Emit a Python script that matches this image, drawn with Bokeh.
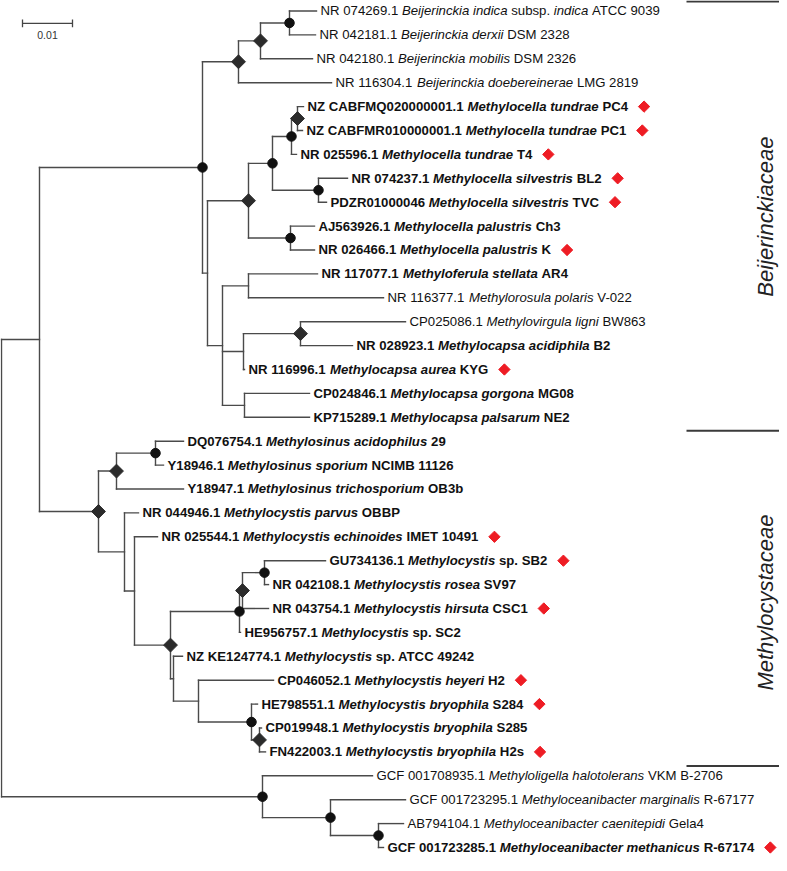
import numpy as np
from bokeh.plotting import figure
from bokeh.models import Range1d, ColumnDataSource
from bokeh.embed import file_html
from bokeh.resources import INLINE
from bokeh.core.properties import value

# ------------------------------------------------------------------
# DATA  (branch lengths in substitutions per site; leaves named by index,
#        internal-node tag: c = circle support, d = diamond support)
# ------------------------------------------------------------------
BEIJERINCKIA = "(((0:0.0054,1:0.0052)c:0.0058,2:0.0104)d:0.0044,3:0.0186)d"
METHYLOCELLA = ("((((4:0.0012,5:0.0010)d:0.0012,6:0.0010)c:0.0038,"
                "(7:0.0058,8:0.0016)c:0.0092)c:0.0048,(9:0.0048,10:0.0048)c:0.0084)d")
METHYLOCAPSA = ("((11:0.0138,12:0.0270):0.0052,((13:0.0210,14:0.0104)d:0.0114,15:0.0002):0.0042,"
                "(16:0.0130,17:0.0130):0.0044)")
METHYLOSINUS = "((18:0.0056,19:0.0016)c:0.0078,20:0.0134)d"
METHYLOCYSTIS = ("(21:0.0028,(22:0.0046,((((23:0.0122,24:0.0008)c:0.0044,25:0.0052)d:0.0006,"
                 "26:0.0002)c:0.0138,(27:0.0018,(28:0.0150,(29:0.0012,(30:0.0004,31:0.0012)d:0.0016)c:0.0106)"
                 ":0.0050):0.0006)d:0.0072):0.0020)")
OUTGROUP = "(32:0.0220,(33:0.0150,(34:0.0050,35:0.0010)c:0.0096)c:0.0136)c"

BEIJ_FAMILY = f"({BEIJERINCKIA}:0.0072,({METHYLOCELLA}:0.0082,{METHYLOCAPSA}:0.0030):0.0010)c"
CYST_FAMILY = f"({METHYLOSINUS}:0.0036,{METHYLOCYSTIS}:0.0052)d"
TREE = f"(({BEIJ_FAMILY}:0.0326,{CYST_FAMILY}:0.0118):0.0076,{OUTGROUP}:0.0522);"

# leaf labels: text between * is italic
leaf_labels = [
    "NR 074269.1 *Beijerinckia indica* subsp. *indica* ATCC 9039",
    "NR 042181.1 *Beijerinckia derxii* DSM 2328",
    "NR 042180.1 *Beijerinckia mobilis* DSM 2326",
    "NR 116304.1 *Beijerinckia doebereinerae* LMG 2819",
    "NZ CABFMQ020000001.1 *Methylocella tundrae* PC4",
    "NZ CABFMR010000001.1 *Methylocella tundrae* PC1",
    "NR 025596.1 *Methylocella tundrae* T4",
    "NR 074237.1 *Methylocella silvestris* BL2",
    "PDZR01000046 *Methylocella silvestris* TVC",
    "AJ563926.1 *Methylocella palustris* Ch3",
    "NR 026466.1 *Methylocella palustris* K",
    "NR 117077.1 *Methyloferula stellata* AR4",
    "NR 116377.1 *Methylorosula polaris* V-022",
    "CP025086.1 *Methylovirgula ligni* BW863",
    "NR 028923.1 *Methylocapsa acidiphila* B2",
    "NR 116996.1 *Methylocapsa aurea* KYG",
    "CP024846.1 *Methylocapsa gorgona* MG08",
    "KP715289.1 *Methylocapsa palsarum* NE2",
    "DQ076754.1 *Methylosinus acidophilus* 29",
    "Y18946.1 *Methylosinus sporium* NCIMB 11126",
    "Y18947.1 *Methylosinus trichosporium* OB3b",
    "NR 044946.1 *Methylocystis parvus* OBBP",
    "NR 025544.1 *Methylocystis echinoides* IMET 10491",
    "GU734136.1 *Methylocystis* sp. SB2",
    "NR 042108.1 *Methylocystis rosea* SV97",
    "NR 043754.1 *Methylocystis hirsuta* CSC1",
    "HE956757.1 *Methylocystis* sp. SC2",
    "NZ KE124774.1 *Methylocystis* sp. ATCC 49242",
    "CP046052.1 *Methylocystis heyeri* H2",
    "HE798551.1 *Methylocystis bryophila* S284",
    "CP019948.1 *Methylocystis bryophila* S285",
    "FN422003.1 *Methylocystis bryophila* H2s",
    "GCF 001708935.1 *Methyloligella halotolerans* VKM B-2706",
    "GCF 001723295.1 *Methyloceanibacter marginalis* R-67177",
    "AB794104.1 *Methyloceanibacter caenitepidi* Gela4",
    "GCF 001723285.1 *Methyloceanibacter methanicus* R-67174",
]
leaf_bold = [0, 0, 0, 0, 1, 1, 1, 1, 1, 1, 1, 1, 0, 0, 1, 1, 1, 1,
             1, 1, 1, 1, 1, 1, 1, 1, 1, 1, 1, 1, 1, 1, 0, 0, 0, 1]
leaf_marked = [0, 0, 0, 0, 1, 1, 1, 1, 1, 0, 1, 0, 0, 0, 0, 1, 0, 0,
               0, 0, 0, 0, 1, 1, 0, 1, 0, 0, 1, 1, 0, 1, 0, 0, 0, 1]

family_names = ["Beijerinckiaceae", "Methylocystaceae"]
family_bounds = [-0.40, 17.56, 31.59]   # in leaf-row units
family_centers = [8.6, 24.75]
scale_length = 0.01
scale_label = "0.01"

# ------------------------------------------------------------------
# Newick parsing / layout
# ------------------------------------------------------------------
def parse_newick(s):
    s = s.strip().rstrip(";")
    pos = 0

    def node():
        nonlocal pos
        children = []
        if s[pos] == "(":
            pos += 1
            while True:
                children.append(node())
                if s[pos] == ",":
                    pos += 1
                    continue
                if s[pos] == ")":
                    pos += 1
                    break
        start = pos
        while pos < len(s) and s[pos] not in ":,)":
            pos += 1
        name = s[start:pos]
        length = 0.0
        if pos < len(s) and s[pos] == ":":
            pos += 1
            start = pos
            while pos < len(s) and s[pos] not in ",)":
                pos += 1
            length = float(s[start:pos])
        return {"name": name, "len": length, "children": children}

    return node()


root = parse_newick(TREE)


def layout(nd, x0):
    nd["x"] = x0 + nd["len"]
    if nd["children"]:
        for ch in nd["children"]:
            layout(ch, nd["x"])
        nd["y"] = (nd["children"][0]["y"] + nd["children"][-1]["y"]) / 2.0
    else:
        nd["y"] = float(int(nd["name"]))


layout(root, 0.0)

sx0, sy0, sx1, sy1 = [], [], [], []
circ_x, circ_y, dia_x, dia_y = [], [], [], []
leaf_x = {}


def collect(nd):
    if nd["children"]:
        sx0.append(nd["x"]); sy0.append(nd["children"][0]["y"])
        sx1.append(nd["x"]); sy1.append(nd["children"][-1]["y"])
        for ch in nd["children"]:
            sx0.append(nd["x"]); sy0.append(ch["y"])
            sx1.append(ch["x"]); sy1.append(ch["y"])
            collect(ch)
        if nd["name"] == "c":
            circ_x.append(nd["x"]); circ_y.append(nd["y"])
        elif nd["name"] == "d":
            dia_x.append(nd["x"]); dia_y.append(nd["y"])
    else:
        leaf_x[int(nd["name"])] = nd["x"]


collect(root)

# ------------------------------------------------------------------
# text metrics (Arial / Liberation Sans advance widths, per 1000 em)
# ------------------------------------------------------------------
REG = dict(zip("ABCDEFGHIJKLMNOPQRSTUVWXYZ",
               [667, 667, 722, 722, 667, 611, 778, 722, 278, 500, 667, 556, 833,
                722, 778, 667, 778, 722, 667, 611, 722, 667, 944, 667, 667, 611]))
REG.update(zip("abcdefghijklmnopqrstuvwxyz",
               [556, 556, 500, 556, 556, 278, 556, 556, 222, 222, 500, 222, 833,
                556, 556, 556, 556, 333, 500, 278, 556, 500, 722, 500, 500, 500]))
BLD = dict(zip("ABCDEFGHIJKLMNOPQRSTUVWXYZ",
               [722, 722, 722, 722, 667, 611, 778, 722, 278, 556, 722, 611, 833,
                722, 778, 667, 778, 722, 667, 611, 722, 667, 944, 667, 667, 611]))
BLD.update(zip("abcdefghijklmnopqrstuvwxyz",
               [556, 611, 556, 611, 556, 333, 611, 611, 278, 278, 556, 278, 889,
                611, 611, 611, 611, 389, 556, 333, 611, 556, 778, 556, 556, 500]))
for tbl in (REG, BLD):
    tbl.update({d: 556 for d in "0123456789"})
    tbl.update({" ": 278, ".": 278, "-": 333})

FS = 13.2          # label font size, px
PX = 0.0002        # data units per pixel on the x axis


def text_w(s, bold):
    t = BLD if bold else REG
    return sum(t.get(ch, 556) for ch in s) / 1000.0 * FS


seg_x, seg_y, seg_t, seg_off, seg_style = [], [], [], [], []
mark_x, mark_y = [], []
for i, lab in enumerate(leaf_labels):
    bold = bool(leaf_bold[i])
    off = 4.0
    for k, part in enumerate(lab.split("*")):
        if part == "":
            continue
        lead = len(part) - len(part.lstrip(" "))
        txt = part.strip(" ")
        if txt:
            italic = (k % 2 == 1)
            style = ("bold " if bold else "") + ("italic" if italic else "")
            style = style.strip() or "normal"
            seg_x.append(leaf_x[i]); seg_y.append(i); seg_t.append(txt)
            seg_off.append(off + text_w(" " * lead, bold)); seg_style.append(style)
        off += text_w(part, bold)
    if leaf_marked[i]:
        mark_x.append(leaf_x[i] + (off + 16.0) * PX)
        mark_y.append(i)

# ------------------------------------------------------------------
# figure
# ------------------------------------------------------------------
W, H = 779, 855
p = figure(width=W, height=H, output_backend="svg", toolbar_location=None,
           x_range=Range1d(-PX, -PX + W * PX), y_range=Range1d(35.335, -0.4393),
           x_axis_location=None, y_axis_location=None, min_border=0,
           tools="")
p.grid.visible = False
p.outline_line_color = None
p.background_fill_color = "white"
p.border_fill_color = "white"

p.segment(x0=sx0, y0=sy0, x1=sx1, y1=sy1, line_color="#4a4a4a", line_width=1.4,
          line_cap="square")

p.scatter(x=circ_x, y=circ_y, marker="circle", size=9.5, fill_color="#111111",
          line_color="#111111")
p.scatter(x=dia_x, y=dia_y, marker="square", angle=np.pi / 4, size=9.8,
          fill_color="#2b2b2b", line_color="#2b2b2b")

src = ColumnDataSource(dict(x=seg_x, y=seg_y, text=seg_t, off=seg_off, style=seg_style))
p.text(x="x", y="y", text="text", x_offset="off", text_font_style="style", source=src,
       text_font=value("Liberation Sans"), text_font_size=f"{FS}px", text_color="#111111",
       text_baseline="middle", text_align="left")

p.scatter(x=mark_x, y=mark_y, marker="square", angle=np.pi / 4, size=8,
          fill_color="#ee1c24", line_color="#ee1c24")

# family brackets
fam_x0 = 685 * PX
p.segment(x0=[fam_x0] * 3, y0=family_bounds, x1=[0.2] * 3, y1=family_bounds,
          line_color="#3a3a3a", line_width=2)
p.text(x=[763.5 * PX] * 2, y=family_centers, text=family_names, angle=np.pi / 2,
       text_font=value("Liberation Sans"), text_font_size="22px",
       text_font_style="italic", text_color="#222222",
       text_align="center", text_baseline="middle")

# scale bar
sb_x0 = 21 * PX
sb_y = 0.52
p.segment(x0=[sb_x0, sb_x0, sb_x0 + scale_length], y0=[sb_y, sb_y - 0.16, sb_y - 0.16],
          x1=[sb_x0 + scale_length, sb_x0, sb_x0 + scale_length], y1=[sb_y, sb_y + 0.16, sb_y + 0.16],
          line_color="#444444", line_width=1.3)
p.text(x=[sb_x0 + scale_length / 2], y=[1.0], text=[scale_label],
       text_font=value("Liberation Sans"), text_font_size="10.5px", text_color="#333333",
       text_align="center", text_baseline="middle")

open("out.html", "w").write(file_html(p, INLINE))
